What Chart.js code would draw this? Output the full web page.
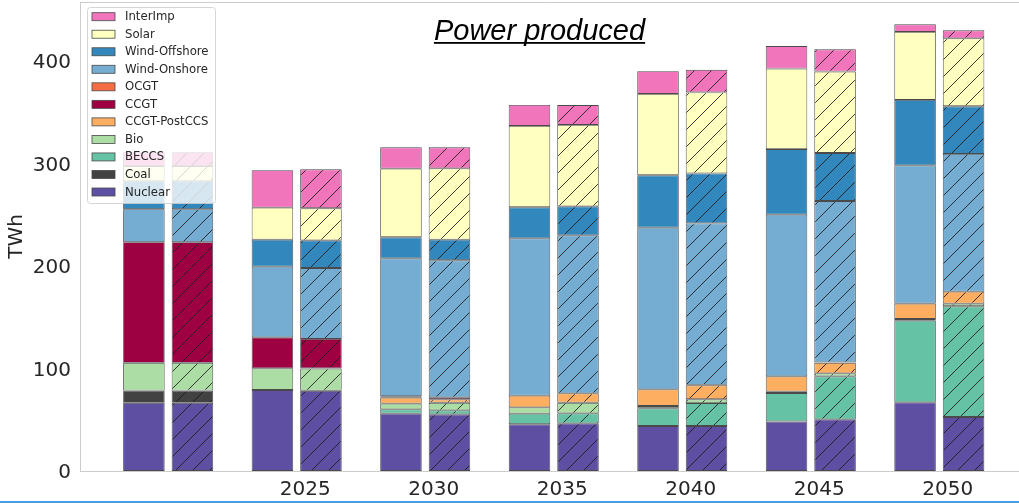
<!DOCTYPE html>
<html>
<head>
<meta charset="utf-8">
<title>Power produced</title>
<script src="https://cdn.jsdelivr.net/npm/chart.js@4/dist/chart.umd.min.js"></script>
<style>
  html, body { margin: 0; padding: 0; background: #fff; }
  #wrap { width: 1019px; height: 501px; border-bottom: 2px solid #46a0e6; }
  canvas { display: block; }
</style>
</head>
<body>
<div id="wrap"><canvas id="chart" width="1019" height="501"></canvas></div>
<script>
const years = [2020, 2025, 2030, 2035, 2040, 2045, 2050];
const xTicks = [2025, 2030, 2035, 2040, 2045, 2050];
const yTicks = [0, 100, 200, 300, 400];

// TWh per technology, plain bars
const nuclearA   = [66.5, 79.0, 55.9, 45.6, 43.9, 48.3, 67.0];
const coalA      = [12.0, 0, 0, 0, 0, 0, 0];
const beccsA     = [0, 0, 4.3, 10.3, 17.3, 27.8, 79.6];
const bioA       = [27.0, 21.2, 5.5, 6.2, 2.2, 1.3, 1.7];
const postCcsA   = [0, 0, 5.8, 11.4, 16.3, 15.0, 14.9];
const ccgtA      = [117.7, 30.2, 1.4, 0, 0, 0, 0];
const ocgtA      = [0, 0, 0, 0, 0, 0, 0];
const onshoreA   = [32.2, 68.9, 134.6, 153.5, 157.7, 157.6, 135.0];
const offshoreA  = [27.3, 26.4, 20.5, 30.3, 51.1, 64.0, 63.8];
const solarA     = [14.7, 31.2, 66.9, 79.3, 79.3, 78.6, 66.3];
const interImpA  = [13.6, 36.5, 20.9, 20.5, 22.2, 21.9, 7.5];

// TWh per technology, hatched bars
const nuclearB   = [66.5, 78.3, 55.3, 46.5, 43.9, 50.4, 52.7];
const coalB      = [12.0, 0, 0, 0, 0, 0, 0];
const beccsB     = [0, 0, 3.9, 9.8, 22.4, 42.0, 108.0];
const bioB       = [27.0, 21.7, 7.4, 10.3, 3.7, 2.9, 2.5];
const postCcsB   = [0, 0, 3.3, 9.2, 13.6, 10.2, 11.7];
const ccgtB      = [117.7, 28.8, 2.0, 0, 0.5, 0.5, 0];
const ocgtB      = [0, 0, 0, 0, 0, 0, 0];
const onshoreB   = [32.2, 69.2, 133.7, 154.1, 157.4, 157.4, 134.4];
const offshoreB  = [27.3, 27.0, 20.1, 28.3, 48.8, 46.8, 46.5];
const solarB     = [14.7, 31.3, 69.6, 79.4, 79.0, 79.4, 66.3];
const interImpB  = [13.6, 38.0, 20.5, 19.4, 22.1, 21.8, 7.8];

// bottom of the stack first
const techs = [
  { name: 'Nuclear',       color: '#5e4fa2', a: nuclearA,  b: nuclearB },
  { name: 'Coal',          color: '#424242', a: coalA,     b: coalB },
  { name: 'BECCS',         color: '#66c2a5', a: beccsA,    b: beccsB },
  { name: 'Bio',           color: '#abdda4', a: bioA,      b: bioB },
  { name: 'CCGT-PostCCS',  color: '#fdae61', a: postCcsA,  b: postCcsB },
  { name: 'CCGT',          color: '#9e0142', a: ccgtA,     b: ccgtB },
  { name: 'OCGT',          color: '#f46d43', a: ocgtA,     b: ocgtB },
  { name: 'Wind-Onshore',  color: '#74add1', a: onshoreA,  b: onshoreB },
  { name: 'Wind-Offshore', color: '#3288bd', a: offshoreA, b: offshoreB },
  { name: 'Solar',         color: '#ffffbf', a: solarA,    b: solarB },
  { name: 'InterImp',      color: '#f175bb', a: interImpA, b: interImpB },
];

const edge = '#4a4a4a';
const textColor = '#262626';

function hatch(color) {
  const size = 17;
  const c = document.createElement('canvas');
  c.width = c.height = size;
  const g = c.getContext('2d');
  g.fillStyle = color;
  g.fillRect(0, 0, size, size);
  g.strokeStyle = 'rgba(25,25,25,0.85)';
  g.lineWidth = 1;
  g.beginPath();
  g.moveTo(-2, size + 2);
  g.lineTo(size + 2, -2);
  g.stroke();
  return g.createPattern(c, 'repeat');
}

const points = arr => years.map((x, i) => ({ x, y: arr[i] }));

const datasets = [];
techs.forEach(t => {
  datasets.push({ label: t.name, data: points(t.a), stack: 'a',
    backgroundColor: t.color, borderColor: edge, borderWidth: 0.9, borderSkipped: false });
  datasets.push({ label: t.name, data: points(t.b), stack: 'b',
    backgroundColor: hatch(t.color), borderColor: edge, borderWidth: 0.9, borderSkipped: false });
});

// top spine of the frame
const frameTop = {
  id: 'frameTop',
  beforeDatasetsDraw(chart) {
    const { ctx, chartArea } = chart;
    ctx.save();
    ctx.strokeStyle = '#cccccc';
    ctx.lineWidth = 1;
    ctx.beginPath();
    ctx.moveTo(chartArea.left, chartArea.top + 0.5);
    ctx.lineTo(chartArea.right, chartArea.top + 0.5);
    ctx.stroke();
    ctx.restore();
  }
};

const titleText = {
  id: 'titleText',
  afterDraw(chart) {
    const ctx = chart.ctx;
    const text = 'Power produced';
    const cx = 539.5, base = 39.5;
    ctx.save();
    ctx.font = 'italic 29px "Liberation Sans", Arial, sans-serif';
    ctx.fillStyle = '#000';
    ctx.textAlign = 'center';
    ctx.textBaseline = 'alphabetic';
    ctx.fillText(text, cx, base);
    const w = ctx.measureText(text).width;
    ctx.fillRect(cx - w / 2, base + 2.5, w, 1.8);
    ctx.restore();
  }
};

// legend drawn over the bars, with a translucent box
const legendBox = {
  id: 'legendBox',
  afterDatasetsDraw(chart) {
    const ctx = chart.ctx;
    const x = 87, y = 7, w = 128, h = 196, r = 3;
    ctx.save();
    ctx.beginPath();
    ctx.roundRect(x + 0.5, y + 0.5, w, h, r);
    ctx.fillStyle = 'rgba(255,255,255,0.8)';
    ctx.fill();
    ctx.strokeStyle = 'rgba(204,204,204,0.8)';
    ctx.lineWidth = 1;
    ctx.stroke();
    ctx.font = '11.7px "DejaVu Sans"';
    ctx.textBaseline = 'middle';
    ctx.textAlign = 'left';
    techs.slice().reverse().forEach((t, i) => {
      const cy = 16.7 + i * 17.53;
      ctx.fillStyle = t.color;
      ctx.fillRect(92, cy - 4, 23, 8);
      ctx.strokeStyle = edge;
      ctx.lineWidth = 0.8;
      ctx.strokeRect(92, cy - 4, 23, 8);
      ctx.fillStyle = textColor;
      ctx.fillText(t.name, 125, cy + 0.5);
    });
    ctx.restore();
  }
};

new Chart(document.getElementById('chart'), {
  type: 'bar',
  data: { datasets },
  options: {
    responsive: false,
    animation: false,
    devicePixelRatio: 1,
    layout: { autoPadding: false, padding: { top: 2, right: 0, bottom: 0, left: 0 } },
    categoryPercentage: 0.755,
    barPercentage: 0.856,
    plugins: {
      legend: { display: false },
      tooltip: { enabled: false },
      title: { display: false }
    },
    scales: {
      x: {
        type: 'linear',
        stacked: true,
        offset: false,
        min: 2016.57,
        max: 2053.1,
        afterFit: s => { s.height = 30; s.paddingLeft = 0; s.paddingRight = 0; },
        afterBuildTicks: s => { s.ticks = xTicks.map(v => ({ value: v })); },
        grid: { display: false, drawTicks: false },
        border: { color: '#cccccc' },
        ticks: {
          font: { family: 'DejaVu Sans', size: 20 },
          color: textColor,
          padding: 7,
          labelOffset: 8.5,
          maxRotation: 0,
          callback: v => String(v)
        }
      },
      y: {
        stacked: true,
        min: 0,
        max: 457.5,
        afterFit: s => { s.width = 80; s.paddingTop = 0; s.paddingBottom = 0; },
        afterBuildTicks: s => { s.ticks = yTicks.map(v => ({ value: v })); },
        grid: { display: false, drawTicks: false },
        border: { color: '#cccccc' },
        ticks: {
          font: { family: 'DejaVu Sans', size: 20 },
          color: textColor,
          padding: 9,
          labelOffset: 2
        },
        title: {
          display: true,
          text: 'TWh',
          font: { family: 'DejaVu Sans', size: 20 },
          color: textColor,
          padding: { top: 5, bottom: 0 }
        }
      }
    }
  },
  plugins: [frameTop, legendBox, titleText]
});
</script>
</body>
</html>
